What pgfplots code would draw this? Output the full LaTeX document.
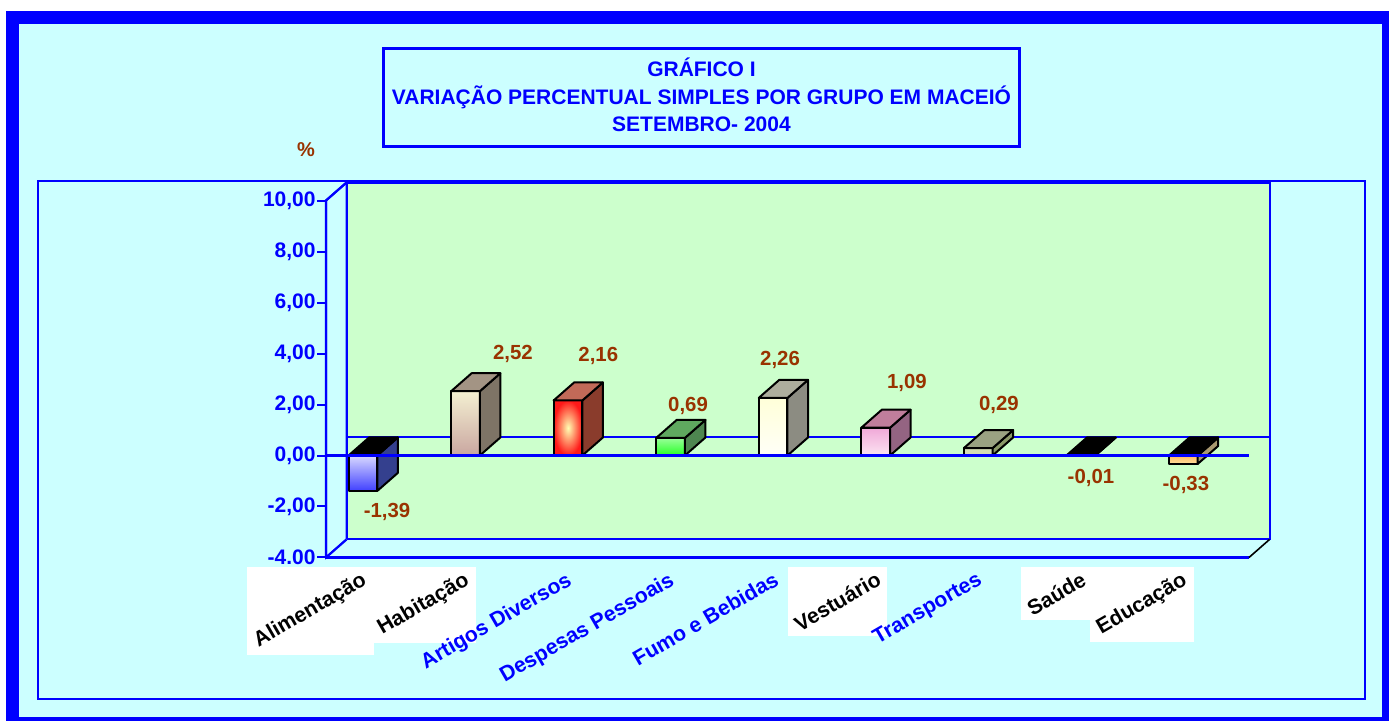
\documentclass[border=0pt]{standalone}
\usepackage{fontspec}
\setmainfont{Liberation Sans}
\usepackage{graphicx}
\usepackage{pgfplots}
\pgfplotsset{compat=1.18}
\definecolor{cyanbg}{HTML}{CCFFFF}
\definecolor{wallgreen}{HTML}{CCFFCC}
\definecolor{lblbrown}{HTML}{993300}
\definecolor{fblue}{HTML}{0000FF}
% bar colours
\definecolor{aSide}{HTML}{34408E}
\definecolor{hFrontT}{HTML}{F4F0D2}
\definecolor{hFrontB}{HTML}{C9A6A0}
\definecolor{hSide}{HTML}{7E7466}
\definecolor{hTop}{HTML}{A39484}
\definecolor{rSide}{HTML}{8A3C2C}
\definecolor{rTop}{HTML}{C26A58}
\definecolor{gSide}{HTML}{4E8650}
\definecolor{gTop}{HTML}{5FA85F}
\definecolor{fSide}{HTML}{8C8C82}
\definecolor{fTop}{HTML}{AEAE9E}
\definecolor{vFrontT}{HTML}{F0A8D8}
\definecolor{vFrontB}{HTML}{FCE4F2}
\definecolor{vSide}{HTML}{946482}
\definecolor{vTop}{HTML}{C07E9C}
\definecolor{tFront}{HTML}{D4DCB4}
\definecolor{tSide}{HTML}{8A9868}
\definecolor{tTop}{HTML}{9AA282}
\definecolor{eFrontT}{HTML}{FFB860}
\definecolor{eFrontB}{HTML}{FFE0A0}
\definecolor{eSide}{HTML}{A89870}
\tikzset{lbl/.style={text=lblbrown,font=\fontsize{10.2}{12}\selectfont\bfseries,inner sep=0pt}}
\newcommand\wl[1]{{\setlength\fboxsep{2pt}\colorbox{white}{\color{black}\rotatebox{30}{#1}}}}
\newcommand\bl[1]{\hbox{\kern2pt\raisebox{0pt}[\dimexpr\height+2pt\relax][\dimexpr\depth+2pt\relax]{\rotatebox{30}{#1}}\kern2pt}}
% 3D-looking bar: #1 index, #2 value, #3 front style, #4 side colour, #5 top colour
\newcommand\dbar[5]{%
 \pgfmathsetmacro\xa{#1-0.28}%
 \pgfmathsetmacro\xd{#1-0.08}%
 \pgfmathsetmacro\xc{#1+0.2}%
 \pgfmathsetmacro\yv{#2}%
 \pgfmathsetmacro\yvd{#2+0.706}%
 \pgfmathsetmacro\yt{max(#2,0)}%
 \pgfmathsetmacro\ytd{max(#2,0)+0.706}%
 \edef\tmp{%
  \noexpand\addplot[draw=black,line width=1pt,line join=round,\unexpanded{#3}] coordinates {(\xa,0) (#1,0) (#1,\yv) (\xa,\yv)} -- cycle;%
  \noexpand\addplot[draw=black,line width=1pt,line join=round,fill=#4] coordinates {(#1,\yv) (\xc,\yvd) (\xc,0.706) (#1,0)} -- cycle;%
  \noexpand\addplot[draw=black,line width=1pt,line join=round,fill=#5] coordinates {(\xa,\yt) (#1,\yt) (\xc,\ytd) (\xd,\ytd)} -- cycle;%
 }\tmp}
\begin{document}
\begin{tikzpicture}
\path[use as bounding box] (0,0) rectangle (694.5pt,-360.5pt);
\begin{scope}[x=0.5pt,y=-0.5pt]
 \fill[fblue] (6,11) rectangle (1400,730);
 \fill[cyanbg] (19,24) rectangle (1382,717);
 \draw[fblue,line width=1pt] (38,181) rectangle (1365,699);
 \draw[fblue,line width=1.2pt] (383.5,48.5) rectangle (1019.5,146.5);
 \node[anchor=base,text=fblue,font=\fontsize{10.5}{12}\selectfont\bfseries] at (701.5,76.5) {GRÁFICO I};
 \node[anchor=base,text=fblue,font=\fontsize{10.5}{12}\selectfont\bfseries] at (701.5,104.5) {VARIAÇÃO PERCENTUAL SIMPLES POR GRUPO EM MACEIÓ};
 \node[anchor=base,text=fblue,font=\fontsize{10.5}{12}\selectfont\bfseries] at (701.5,131.5) {SETEMBRO- 2004};
 \node[text=lblbrown,font=\fontsize{10}{12}\selectfont\bfseries] at (306,150) {\%};
\end{scope}
\begin{axis}[
  at={(163pt,-278.75pt)}, anchor=south west,
  scale only axis, width=471.75pt, height=187.5pt,
  xmin=-0.5, xmax=8.7, ymin=-4, ymax=10.706,
  clip=false, axis line style={draw=none},
  tick pos=left, tick align=outside, major tick length=4.5pt,
  ytick={-4,-2,0,2,4,6,8,10},
  yticklabels={{-4.00},{-2,00},{0,00},{2,00},{4,00},{6,00},{8,00},{10,00}},
  ytick style={fblue,line width=1pt},
  yticklabel style={font=\fontsize{10.5}{12}\selectfont\bfseries,text=fblue,inner sep=0.5pt},
  xtick={0,...,8},
  xtick style={draw=none},
  xticklabels={\wl{Alimentação},\wl{Habitação},\bl{Artigos Diversos},\bl{Despesas Pessoais},\bl{Fumo e Bebidas},\wl{Vestuário},\bl{Transportes},\wl{Saúde},\wl{Educação}},
  xticklabel style={anchor=north east,inner sep=0pt,xshift=-1.5pt,font=\fontsize{10.6}{12}\selectfont\bfseries,text=fblue},
]
% walls
\draw[fblue,line width=1pt,fill=wallgreen] (axis cs:-0.3,-3.294) rectangle (axis cs:8.7,10.706);
\draw[fblue,line width=1pt,fill=cyanbg] (axis cs:-0.5,-4) -- (axis cs:-0.5,10) -- (axis cs:-0.3,10.706) -- (axis cs:-0.3,-3.294) -- cycle;
\fill[cyanbg] (axis cs:-0.5,-4) -- (axis cs:8.5,-4) -- (axis cs:8.7,-3.294) -- (axis cs:-0.3,-3.294) -- cycle;
\draw[fblue,line width=1pt] (axis cs:-0.3,-3.294) -- (axis cs:8.7,-3.294);
\draw[fblue,line width=1.1pt] (axis cs:-0.5,-4) -- (axis cs:8.5,-4);
\draw[black,line width=0.8pt] (axis cs:8.5,-4) -- (axis cs:8.7,-3.294);
\draw[fblue,line width=1pt] (axis cs:-0.3,0.706) -- (axis cs:8.7,0.706);
% bars
\dbar{0}{-1.39}{top color=white!85!blue,bottom color=blue!75}{aSide}{black}
\dbar{1}{2.52}{top color=hFrontT,bottom color=hFrontB}{hSide}{hTop}
\dbar{2}{2.16}{inner color=white!70!yellow,outer color=red!90}{rSide}{rTop}
\dbar{3}{0.69}{top color=white!60!green,bottom color=green!85}{gSide}{gTop}
\dbar{4}{2.26}{top color=white!85!yellow,bottom color=white!97!yellow}{fSide}{fTop}
\dbar{5}{1.09}{top color=vFrontT,bottom color=vFrontB}{vSide}{vTop}
\dbar{6}{0.29}{fill=tFront}{tSide}{tTop}
\dbar{7}{-0.01}{fill=black}{black}{black}
\dbar{8}{-0.33}{top color=eFrontT,bottom color=eFrontB}{eSide}{black}
% front lines
\draw[fblue,line width=1.1pt] (axis cs:-0.5,0) -- (axis cs:8.5,0);
\draw[fblue,line width=1.1pt] (axis cs:-0.5,-4) -- (axis cs:-0.5,10) -- (axis cs:-0.3,10.706);
\draw[fblue,line width=1.1pt] (axis cs:-0.5,-4) -- (axis cs:-0.3,-3.294);
% value labels
\node[lbl] at (axis cs:0.095,-2.22) {-1,39};
\node[lbl] at (axis cs:1.323,3.98) {2,52};
\node[lbl] at (axis cs:2.155,3.90) {2,16};
\node[lbl] at (axis cs:3.03,1.94) {0,69};
\node[lbl] at (axis cs:3.927,3.73) {2,26};
\node[lbl] at (axis cs:5.165,2.84) {1,09};
\node[lbl] at (axis cs:6.062,1.98) {0,29};
\node[lbl] at (axis cs:6.959,-0.88) {-0,01};
\node[lbl] at (axis cs:7.885,-1.16) {-0,33};
\end{axis}
\end{tikzpicture}
\end{document}
